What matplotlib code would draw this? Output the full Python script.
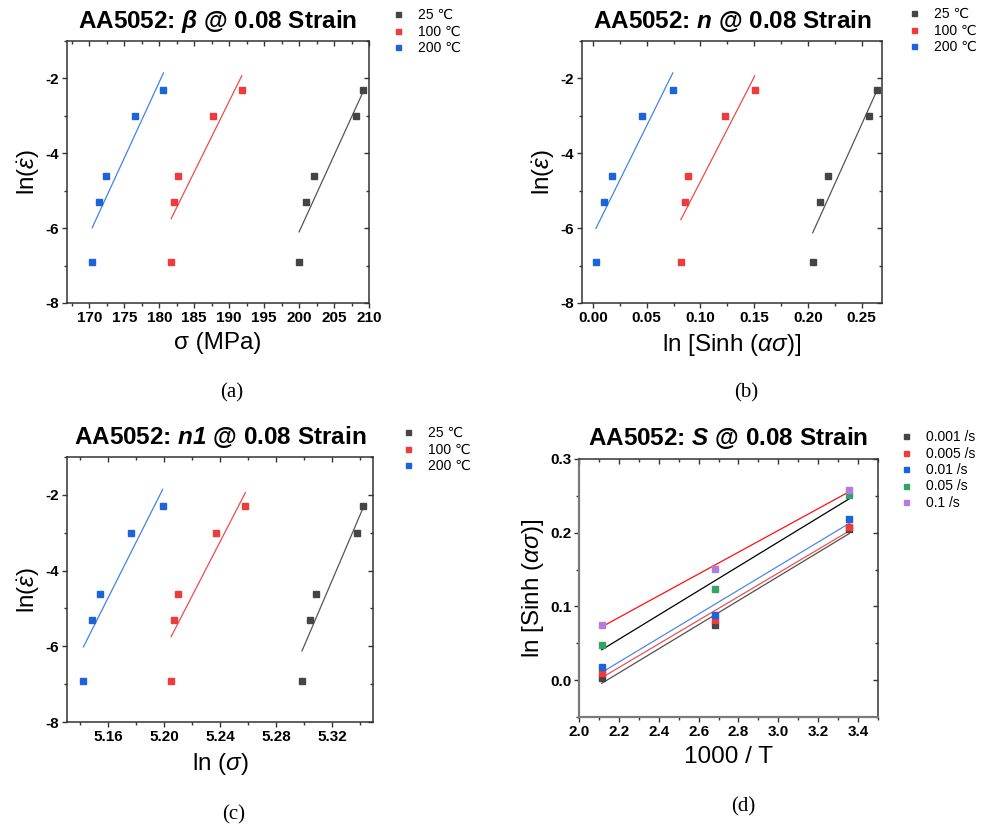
import numpy as np
import matplotlib
matplotlib.use("Agg")
import matplotlib.pyplot as plt
from matplotlib.ticker import MultipleLocator, FormatStrFormatter
from matplotlib.lines import Line2D

plt.rcParams['font.family'] = ['Liberation Sans', 'DejaVu Sans']
plt.rcParams['axes.unicode_minus'] = False
plt.rcParams['mathtext.fontset'] = 'custom'
plt.rcParams['mathtext.rm'] = 'Liberation Sans'
plt.rcParams['mathtext.it'] = 'Liberation Sans:italic'
plt.rcParams['mathtext.bf'] = 'Liberation Sans:bold'
plt.rcParams['mathtext.bfit'] = 'Liberation Sans:italic:bold'

# ln(strain rate) for 0.001, 0.005, 0.01, 0.05, 0.1 /s
ln_rate = [-6.91, -5.30, -4.61, -3.00, -2.30]

# (a) flow stress, MPa
sig_25 = [200.0, 201.0, 202.1, 208.2, 209.2]
sig_100 = [181.7, 182.1, 182.7, 187.7, 191.8]
sig_200 = [170.4, 171.4, 172.4, 176.5, 180.6]

# (b) ln[sinh(alpha*sigma)]
sh_25 = [0.2045, 0.2116, 0.2184, 0.2571, 0.2646]
sh_100 = [0.0818, 0.0852, 0.0889, 0.1233, 0.1506]
sh_200 = [0.0028, 0.0099, 0.0173, 0.0458, 0.0743]

# (c) ln(sigma)
lns_25 = [5.2983, 5.3037, 5.3083, 5.3374, 5.3419]
lns_100 = [5.2049, 5.2068, 5.2101, 5.2369, 5.2579]
lns_200 = [5.1423, 5.1481, 5.1540, 5.1765, 5.1989]

# (d) ln[sinh(alpha*sigma)] vs 1000/T
inv_T = [2.114, 2.681, 3.356]
s_0001 = [0.003, 0.075, 0.205]
s_0005 = [0.010, 0.082, 0.208]
s_001 = [0.018, 0.089, 0.219]
s_005 = [0.047, 0.124, 0.251]
s_01 = [0.075, 0.151, 0.258]

temp_labels = ['25 \u2103', '100 \u2103', '200 \u2103']
rate_labels = ['0.001 /s', '0.005 /s', '0.01 /s', '0.05 /s', '0.1 /s']

GREY = '#454545'
RED = '#ee3b3b'
BLUE = '#1c64d8'
GREEN = '#33a466'
PURPLE = '#b47ddc'
temp_colors = [GREY, RED, BLUE]
temp_lines = ['#555555', '#f04a4a', '#3f85e8']
rate_colors = [GREY, RED, BLUE, GREEN, PURPLE]
rate_lines = ['#505050', '#f05050', '#4a8ae8', '#000000', '#ff1010']

W, H = 983, 826
fig = plt.figure(figsize=(W / 100, H / 100), dpi=100)


def box(l, t, r, b):
    return [l / W, 1 - b / H, (r - l) / W, (b - t) / H]


def origin_style(ax, xmaj, xmin, ymaj, ymin, xfmt, yfmt):
    ax.xaxis.set_major_locator(MultipleLocator(xmaj))
    ax.xaxis.set_minor_locator(MultipleLocator(xmin))
    ax.yaxis.set_major_locator(MultipleLocator(ymaj))
    ax.yaxis.set_minor_locator(MultipleLocator(ymin))
    ax.xaxis.set_major_formatter(FormatStrFormatter(xfmt))
    ax.yaxis.set_major_formatter(FormatStrFormatter(yfmt))
    ax.tick_params(which='both', direction='out', width=1, color='#333333',
                   labelsize=11, pad=2)
    ax.tick_params(which='major', length=3.5)
    ax.tick_params(which='minor', length=2.2)
    for lab in ax.get_xticklabels() + ax.get_yticklabels():
        lab.set_fontweight('bold')
    for sp in ax.spines.values():
        sp.set_linewidth(1.1)
        sp.set_color('#333333')
    # inward ticks on top and right
    top = ax.secondary_xaxis('top')
    top.xaxis.set_major_locator(MultipleLocator(xmaj))
    top.xaxis.set_minor_locator(MultipleLocator(xmin))
    top.tick_params(which='both', direction='in', labeltop=False, width=1, color='#333333')
    top.tick_params(which='major', length=3.5)
    top.tick_params(which='minor', length=2.2)
    top.spines['top'].set_visible(False)
    right = ax.secondary_yaxis('right')
    right.yaxis.set_major_locator(MultipleLocator(ymaj))
    right.yaxis.set_minor_locator(MultipleLocator(ymin))
    right.tick_params(which='both', direction='in', labelright=False, width=1, color='#333333')
    right.tick_params(which='major', length=3.5)
    right.tick_params(which='minor', length=2.2)
    right.spines['right'].set_visible(False)


def fit_line(ax, x, y, color):
    k, b0 = np.polyfit(x, y, 1)
    xs = np.array([min(x), max(x)])
    ax.plot(xs, k * xs + b0, color=color, lw=0.9, zorder=2)


def add_legend(ax, colors, labels, mx, my):
    handles = [Line2D([], [], ls='none', marker='s', ms=3.6, mec=c, mfc=c) for c in colors]
    ax.legend(handles, labels, loc='upper left', frameon=False, fontsize=10,
              handlelength=0.8, handletextpad=1.0, labelspacing=0.18,
              borderpad=0, borderaxespad=0,
              bbox_to_anchor=((mx - 5.5) / W, 1 - my / H), bbox_transform=fig.transFigure)


def temp_panel(rect, xs, title, xlabel, xlim, xmaj, xmin, xfmt, leg_xy):
    ax = fig.add_axes(box(*rect))
    for x, c, lc in zip(xs, temp_colors, temp_lines):
        fit_line(ax, x, ln_rate, lc)
        ax.plot(x, ln_rate, ls='none', marker='s', ms=4.2, color=c, zorder=3)
    ax.set_xlim(*xlim)
    ax.set_ylim(-8, -1)
    origin_style(ax, xmaj, xmin, 2, 1, xfmt, '%d')
    ax.set_title(title, fontsize=17.5, fontweight='bold', pad=9.5)
    ax.set_xlabel(xlabel, fontsize=17.5, labelpad=5)
    ax.set_ylabel(r'ln($\dot{\varepsilon}$)', fontsize=17.5, labelpad=3)
    add_legend(ax, temp_colors, temp_labels, *leg_xy)
    return ax


# (a)
temp_panel((67, 41, 369, 303), [sig_25, sig_100, sig_200],
           r'AA5052: $\mathbfit{\beta}$ @ 0.08 Strain', 'σ (MPa)',
           (166.8, 210), 5, 2.5, '%d', (398, 8))
# (b)
temp_panel((582, 41, 882, 303), [sh_25, sh_100, sh_200],
           r'AA5052: $\mathbfit{n}$ @ 0.08 Strain', r'ln [Sinh ($\alpha\sigma$)]',
           (-0.0102, 0.269), 0.05, 0.025, '%.2f', (914, 7))
# (c)
temp_panel((67, 457, 373, 722), [lns_25, lns_100, lns_200],
           r'AA5052: $\mathbfit{n1}$ @ 0.08 Strain', r'ln ($\sigma$)',
           (5.1306, 5.349), 0.04, 0.02, '%.2f', (408, 426))

# (d)
axd = fig.add_axes(box(579, 459, 878, 717))
for y, c, lc in zip([s_0001, s_0005, s_001, s_005, s_01], rate_colors, rate_lines):
    fit_line(axd, inv_T, y, lc)
    axd.plot(inv_T, y, ls='none', marker='s', ms=4.2, color=c, zorder=3)
axd.set_xlim(2.0, 3.5)
axd.set_ylim(-0.05, 0.3)
origin_style(axd, 0.2, 0.1, 0.1, 0.05, '%.1f', '%.1f')
axd.spines['left'].set_color('#7a7a7a')
axd.spines['bottom'].set_color('#7a7a7a')
axd.spines['left'].set_linewidth(1.6)
axd.spines['bottom'].set_linewidth(1.6)
axd.set_title(r'AA5052: $\mathbfit{S}$ @ 0.08 Strain', fontsize=17.5, fontweight='bold', pad=10)
axd.set_xlabel('1000 / T', fontsize=17.5, labelpad=5)
axd.set_ylabel(r'ln [Sinh ($\alpha\sigma$)]', fontsize=17.5, labelpad=3)
add_legend(axd, rate_colors, rate_labels, 906, 430)

# sub-figure captions
for s, x, y in [('(a)', 232, 393), ('(b)', 746, 393), ('(c)', 234, 815), ('(d)', 743, 807)]:
    fig.text(x / W, 1 - y / H, s, ha='center', va='center', fontsize=15,
             family='Liberation Serif')

fig.savefig('out.png', dpi=100)
